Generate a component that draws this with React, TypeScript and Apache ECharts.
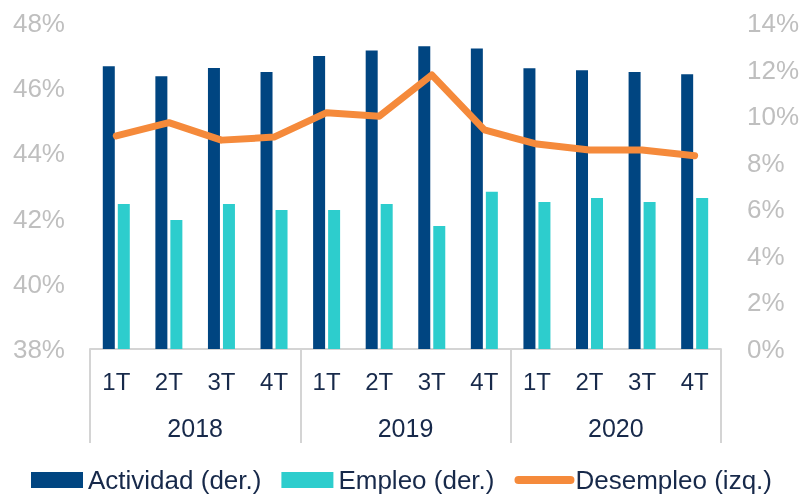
import React, { useEffect, useRef } from "react";
import * as echarts from "echarts";

const quarters = ["1T", "2T", "3T", "4T", "1T", "2T", "3T", "4T", "1T", "2T", "3T", "4T"];
const years = ["2018", "2019", "2020"];
const actividad = [46.67, 46.37, 46.62, 46.5, 46.99, 47.16, 47.29, 47.22, 46.61, 46.55, 46.5, 46.43];
const empleo = [42.45, 41.96, 42.45, 42.26, 42.26, 42.45, 41.77, 42.82, 42.51, 42.63, 42.51, 42.63];
const desempleo = [9.15, 9.72, 8.97, 9.1, 10.15, 10.0, 11.77, 9.41, 8.8, 8.55, 8.55, 8.3];

const FONT = "Liberation Sans, Arial, sans-serif";
const GREY = "#BFBFBF";
const NAVY_TEXT = "#17294A";
const ORANGE = "#F58A3B";

export default function App() {
  const ref = useRef<HTMLDivElement>(null);
  useEffect(() => {
    if (!ref.current) return;
    const chart = echarts.init(ref.current, null, { renderer: "svg" });
    chart.setOption({
      animation: false,
      textStyle: { fontFamily: FONT },
      grid: { left: 90, right: 80, top: 23, bottom: 147, containLabel: false },
      legend: {
        left: 31,
        bottom: -2,
        padding: [5, 0],
        itemWidth: 52,
        itemHeight: 16,
        itemGap: 20,
        textStyle: { fontSize: 26, color: NAVY_TEXT, fontFamily: FONT },
        data: [
          { name: "Actividad (der.)", icon: "rect" },
          { name: "Empleo (der.)", icon: "rect" },
          {
            name: "Desempleo (izq.)",
            itemStyle: { color: "rgba(0,0,0,0)", borderWidth: 0 },
            lineStyle: { color: ORANGE, width: 8, cap: "round" },
          },
        ],
      },
      xAxis: [
        {
          type: "category",
          data: quarters,
          position: "bottom",
          axisLine: { show: false },
          axisTick: { show: false },
          axisLabel: { fontSize: 24, color: NAVY_TEXT, margin: 20, interval: 0, fontFamily: FONT },
        },
        {
          type: "category",
          data: years,
          position: "bottom",
          axisLine: { show: true, lineStyle: { color: "#D4D4D4", width: 2 } },
          axisTick: { show: true, length: 94, interval: 0, lineStyle: { color: "#D4D4D4", width: 2 } },
          axisLabel: { fontSize: 25, color: NAVY_TEXT, margin: 66, interval: 0, fontFamily: FONT },
        },
      ],
      yAxis: [
        {
          type: "value",
          min: 38,
          max: 48,
          interval: 2,
          splitLine: { show: false },
          axisLine: { show: false },
          axisTick: { show: false },
          axisLabel: { formatter: "{value}%", fontSize: 26, color: GREY, margin: 25, fontFamily: FONT },
        },
        {
          type: "value",
          min: 0,
          max: 14,
          interval: 2,
          position: "right",
          splitLine: { show: false },
          axisLine: { show: false },
          axisTick: { show: false },
          axisLabel: { formatter: "{value}%", fontSize: 26, color: GREY, margin: 26, fontFamily: FONT },
        },
      ],
      series: [
        {
          name: "Actividad (der.)",
          type: "bar",
          data: actividad,
          yAxisIndex: 0,
          barWidth: 12,
          barGap: "25%",
          itemStyle: { color: "#004581" },
        },
        {
          name: "Empleo (der.)",
          type: "bar",
          data: empleo,
          yAxisIndex: 0,
          barWidth: 12,
          barGap: "25%",
          itemStyle: { color: "#2DCDCD" },
        },
        {
          name: "Desempleo (izq.)",
          type: "line",
          data: desempleo,
          yAxisIndex: 1,
          symbol: "none",
          lineStyle: { color: ORANGE, width: 7, cap: "round", join: "round" },
          itemStyle: { color: ORANGE },
        },
      ],
    });
    return () => chart.dispose();
  }, []);
  return (
    <div
      ref={ref}
      style={{ position: "fixed", left: 0, top: 0, width: 802, height: 496 }}
    />
  );
}
